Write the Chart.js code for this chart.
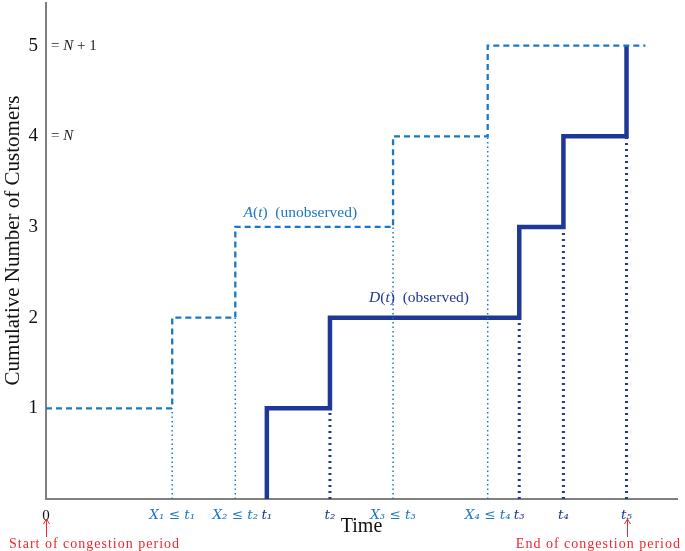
<!DOCTYPE html>
<html>
<head>
<meta charset="utf-8">
<script src="https://cdn.jsdelivr.net/npm/chart.js@4"></script>
<style>
  html, body { margin: 0; padding: 0; background: #fff; }
  #wrap { width: 685px; height: 551px; }
</style>
</head>
<body>
<div id="wrap"><canvas id="queueChart"></canvas></div>
<script>
// arrival times X_i and departure times t_i
const arrivalTimes = [2.0, 3.0, 5.5, 7.0];
const departureTimes = [3.5, 4.5, 7.5, 8.2, 9.2];
const arrivalCounts = [1, 2, 3, 4, 5];
const departureCounts = [0, 1, 2, 3, 4, 5];
const arrivalEnd = 9.5;
const yTicks = [1, 2, 3, 4, 5];
const xTickLabels = ['0', 'X₁ ≤ t₁', 'X₂ ≤ t₂', 't₁', 't₂', 'X₃ ≤ t₃', 'X₄ ≤ t₄', 't₃', 't₄', 't₅'];
const yNotes = { 5: [['= ', 0], ['N', 1], [' + 1', 0]], 4: [['= ', 0], ['N', 1]] };

const blue = '#1b78c6';
const navy = '#1f3797';
const red = '#f2262b';
const serif = "'Liberation Serif', 'DejaVu Serif', serif";
const tickSerif = "'DejaVu Serif', serif";

// step curves
const aPoints = [{ x: 0, y: arrivalCounts[0] }];
arrivalTimes.forEach((x, i) => aPoints.push({ x: x, y: arrivalCounts[i + 1] }));
aPoints.push({ x: arrivalEnd, y: arrivalCounts[4] });

const dPoints = [{ x: departureTimes[0], y: departureCounts[0] }];
departureTimes.forEach((x, i) => dPoints.push({ x: x, y: departureCounts[i + 1] }));

// dotted drop lines
const aDrops = [];
arrivalTimes.forEach((x, i) => {
  aDrops.push({ x: x, y: 0 }, { x: x, y: arrivalCounts[i] }, { x: x, y: null });
});
const dDrops = [];
departureTimes.slice(1).forEach((x, i) => {
  dDrops.push({ x: x, y: 0 }, { x: x, y: departureCounts[i + 1] }, { x: x, y: null });
});

const xTickValues = [0].concat(arrivalTimes.slice(0, 2), departureTimes.slice(0, 2),
  arrivalTimes.slice(2), departureTimes.slice(2));

function labelFor(v) {
  const i = xTickValues.indexOf(v);
  return i >= 0 ? xTickLabels[i] : '';
}

const annotations = {
  id: 'annotations',
  afterDraw(chart) {
    const { ctx, scales: { x, y } } = chart;
    ctx.save();
    ctx.textBaseline = 'middle';
    ctx.textAlign = 'left';
    function mixed(parts, px, py, color, size) {
      ctx.fillStyle = color;
      let cx = px;
      parts.forEach(p => {
        ctx.font = (p[1] ? 'italic ' : '') + size + 'px ' + serif;
        ctx.fillText(p[0], cx, py);
        cx += ctx.measureText(p[0]).width;
      });
    }
    // = N notes
    Object.keys(yNotes).forEach(k => {
      mixed(yNotes[k], x.left + 5, y.getPixelForValue(+k), '#222', 15);
    });
    // curve labels
    mixed([['A', 1], ['(', 0], ['t', 1], [')  (unobserved)', 0]], x.getPixelForValue(3.13), y.getPixelForValue(3.16), blue, 15.5);
    mixed([['D', 1], ['(', 0], ['t', 1], [')  (observed)', 0]], x.getPixelForValue(5.12), y.getPixelForValue(2.22), navy, 15.5);

    // red arrows and notes
    ctx.strokeStyle = red;
    ctx.fillStyle = red;
    ctx.lineWidth = 1;
    [[0, 'Start of congestion period', 'left', 9], [departureTimes[4], 'End of congestion period', 'right', 681]].forEach(a => {
      const px = Math.round(x.getPixelForValue(a[0])) + 0.5;
      ctx.beginPath();
      ctx.moveTo(px, 537);
      ctx.lineTo(px, 520);
      ctx.moveTo(px - 3, 524);
      ctx.lineTo(px, 519);
      ctx.lineTo(px + 3, 524);
      ctx.stroke();
      ctx.font = '14px ' + serif;
      ctx.letterSpacing = '1px';
      ctx.textAlign = a[2];
      ctx.fillText(a[1], a[3], 544);
    });
    ctx.restore();
  }
};

new Chart(document.getElementById('queueChart'), {
  type: 'line',
  data: {
    datasets: [
      { data: aDrops, borderColor: blue, borderWidth: 1.5, borderDash: [1.5, 3], pointRadius: 0, spanGaps: false },
      { data: dDrops, borderColor: navy, borderWidth: 3, borderDash: [2, 4], pointRadius: 0, spanGaps: false },
      { data: aPoints, borderColor: blue, borderWidth: 2.3, borderDash: [6, 4], stepped: 'before', pointRadius: 0 },
      { data: dPoints, borderColor: navy, borderWidth: 4.5, stepped: 'before', pointRadius: 0, borderJoinStyle: 'miter' }
    ]
  },
  options: {
    responsive: true,
    maintainAspectRatio: false,
    animation: false,
    layout: { padding: { top: 3, right: 8 } },
    plugins: { legend: { display: false }, tooltip: { enabled: false } },
    scales: {
      x: {
        type: 'linear',
        min: 0,
        max: 10,
        grid: { display: false, drawTicks: false },
        border: { color: '#808080', width: 2 },
        afterBuildTicks: s => { s.ticks = xTickValues.map(v => ({ value: v })); },
        afterFit: s => { s.height = 52; s.paddingLeft = 0; s.paddingRight = 0; },
        ticks: {
          autoSkip: false,
          maxRotation: 0,
          padding: 8,
          callback: v => labelFor(v),
          color: c => c.tick.value === 0 ? '#111' : (arrivalTimes.includes(c.tick.value) ? blue : navy),
          font: c => c.tick && c.tick.value === 0
            ? { family: serif, size: 15, style: 'normal' }
            : { family: tickSerif, size: 13.5, style: 'italic' }
        },
        title: { display: true, text: 'Time', color: '#111', font: { family: serif, size: 20 }, padding: { bottom: 12 } }
      },
      y: {
        min: 0,
        max: 5.47,
        grid: { display: false, drawTicks: false },
        border: { color: '#808080', width: 2 },
        afterBuildTicks: s => { s.ticks = yTicks.map(v => ({ value: v })); },
        afterFit: s => { s.width = 46; s.paddingTop = 0; s.paddingBottom = 0; },
        ticks: { padding: 8, color: '#111', font: { family: serif, size: 19 } },
        title: { display: true, text: '    Cumulative Number of Customers', color: '#111', font: { family: serif, size: 21 }, padding: { top: 1 } }
      }
    }
  },
  plugins: [annotations]
});
</script>
</body>
</html>
